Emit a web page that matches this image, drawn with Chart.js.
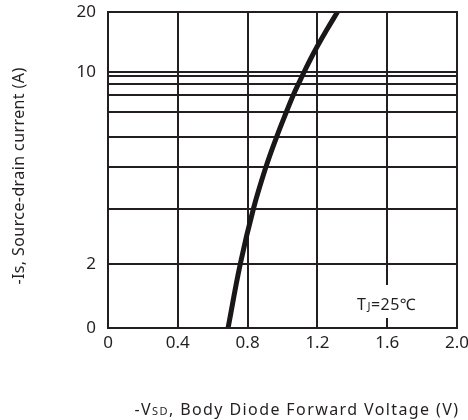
<!DOCTYPE html>
<html>
<head>
<meta charset="utf-8">
<script src="https://cdn.jsdelivr.net/npm/chart.js@4/dist/chart.umd.min.js"></script>
<style>
html,body{margin:0;padding:0;background:#fff;}
#wrap{width:468px;height:420px;}
</style>
</head>
<body>
<div id="wrap"><canvas id="c" width="468" height="420"></canvas></div>
<script>
// ---- data ----
const voltage = [0.688, 0.758, 0.833, 0.905, 0.966, 1.022, 1.062, 1.091, 1.113, 1.124, 1.158, 1.198, 1.253, 1.315];
const current = [0, 2, 3, 4, 5, 6, 7, 8, 9, 10, 12, 14.2, 17, 20];
const xTickValues = [0, 0.4, 0.8, 1.2, 1.6, 2.0];
const xTickLabels = ['0', '0.4', '0.8', '1.2', '1.6', '2.0'];
const yGridValues = [0, 2, 3, 4, 5, 6, 7, 8, 9, 10, 20];
const yLabeledValues = [0, 2, 10, 20];

const FONT = '"Noto Sans", "Open Sans", sans-serif';
const INK = '#231f20';

// custom axis: piecewise mapping between grid values (as printed on the sheet)
class BreakScale extends Chart.LinearScale {
  _dec(v) {
    const b = this.options.breaks, f = this.options.fractions;
    if (v <= b[0]) return f[0];
    for (let i = 1; i < b.length; i++) {
      if (v <= b[i]) return f[i-1] + (f[i]-f[i-1]) * (v-b[i-1]) / (b[i]-b[i-1]);
    }
    return f[f.length-1];
  }
  buildTicks() { return this.options.breaks.map(v => ({value: v})); }
  getPixelForValue(v) { return this.getPixelForDecimal(this._dec(v)); }
  getValueForPixel(p) {
    const d = this.getDecimalForPixel(p), b = this.options.breaks, f = this.options.fractions;
    for (let i = 1; i < f.length; i++) {
      if (d <= f[i]) return b[i-1] + (b[i]-b[i-1]) * (d-f[i-1]) / (f[i]-f[i-1]);
    }
    return b[b.length-1];
  }
}
BreakScale.id = 'breaks';
BreakScale.defaults = {};
Chart.register(BreakScale);

const textPlugin = {
  id: 'texts',
  afterDraw(chart) {
    const ctx = chart.ctx, a = chart.chartArea;
    const x = chart.scales.x;
    ctx.save();
    ctx.textBaseline = 'alphabetic';
    // annotation box + text
    const ax = x.getPixelForValue(1.6);
    ctx.fillStyle = '#fff';
    ctx.fillRect(ax - 6, a.bottom - 43, 12, 33);
    ctx.fillStyle = INK;
    ctx.letterSpacing = '0.5px';
    const parts = [['T', 16], ['J', 11], ['=25\u2103', 16]];
    let px = 357;
    const by = 310;
    for (const [t, s] of parts) {
      ctx.font = s + 'px ' + FONT;
      ctx.fillText(t, px, by);
      px += ctx.measureText(t).width + (t === 'T' ? 1 : 0);
    }
    // x title
    ctx.letterSpacing = '1.4px';
    const xparts = [['-V', 16], ['SD', 11], [', Body Diode Forward Voltage (V)', 16]];
    let w = 0;
    for (const [t, s] of xparts) { ctx.font = s + 'px ' + FONT; w += ctx.measureText(t).width; }
    px = 297 - w/2;
    for (const [t, s] of xparts) {
      ctx.font = s + 'px ' + FONT;
      ctx.fillText(t, px, 415);
      px += ctx.measureText(t).width;
    }
    // y title
    ctx.letterSpacing = '0.4px';
    ctx.translate(24, 176);
    ctx.rotate(-Math.PI/2);
    ctx.font = '16px ' + FONT;
    ctx.textAlign = 'center';
    ctx.fillText('-Is, Source-drain current (A)', 0, 0);
    ctx.restore();
  }
};

new Chart(document.getElementById('c'), {
  type: 'line',
  data: {
    datasets: [{
      data: voltage.map((v, i) => ({x: v, y: current[i]})),
      borderColor: '#1a1718',
      borderWidth: 5,
      pointRadius: 0,
      tension: 0.4,
      fill: false
    }]
  },
  options: {
    responsive: false,
    animation: false,
    devicePixelRatio: 1,
    layout: {padding: {left: 0, right: 11, top: 12, bottom: 0}},
    plugins: {legend: {display: false}, tooltip: {enabled: false}},
    scales: {
      x: {
        type: 'linear', min: 0, max: 2.0,
        afterBuildTicks: s => { s.ticks = xTickValues.map(v => ({value: v})); },
        afterFit: s => { s.height = 92; s.paddingLeft = 0; s.paddingRight = 0; },
        grid: {color: INK, lineWidth: 2, drawTicks: false},
        border: {color: INK, width: 2},
        ticks: {
          padding: 5, color: INK, font: {family: FONT, size: 17},
          maxRotation: 0, autoSkip: false,
          callback: (v) => { const i = xTickValues.indexOf(v); return i >= 0 ? xTickLabels[i] : ''; }
        }
      },
      y: {
        type: 'breaks', min: 0, max: 20,
        breaks: yGridValues,
        fractions: [0, 0.2025, 0.3766, 0.5095, 0.6044, 0.6835, 0.7373, 0.7722, 0.7975, 0.8101, 1],
        afterFit: s => { s.width = 108; s.paddingTop = 0; s.paddingBottom = 0; },
        grid: {color: INK, lineWidth: 2, drawTicks: false},
        border: {color: INK, width: 2},
        ticks: {
          padding: 12, color: INK, font: {family: FONT, size: 17}, autoSkip: false,
          callback: (v) => yLabeledValues.includes(v) ? String(v) : ''
        }
      }
    }
  },
  plugins: [textPlugin, {
    id: 'frame',
    afterDatasetsDraw(chart) {
      const ctx = chart.ctx, a = chart.chartArea;
      ctx.save();
      ctx.strokeStyle = INK; ctx.lineWidth = 2;
      ctx.strokeRect(a.left, a.top, a.right - a.left, a.bottom - a.top);
      ctx.restore();
    }
  }]
});
</script>
</body>
</html>
